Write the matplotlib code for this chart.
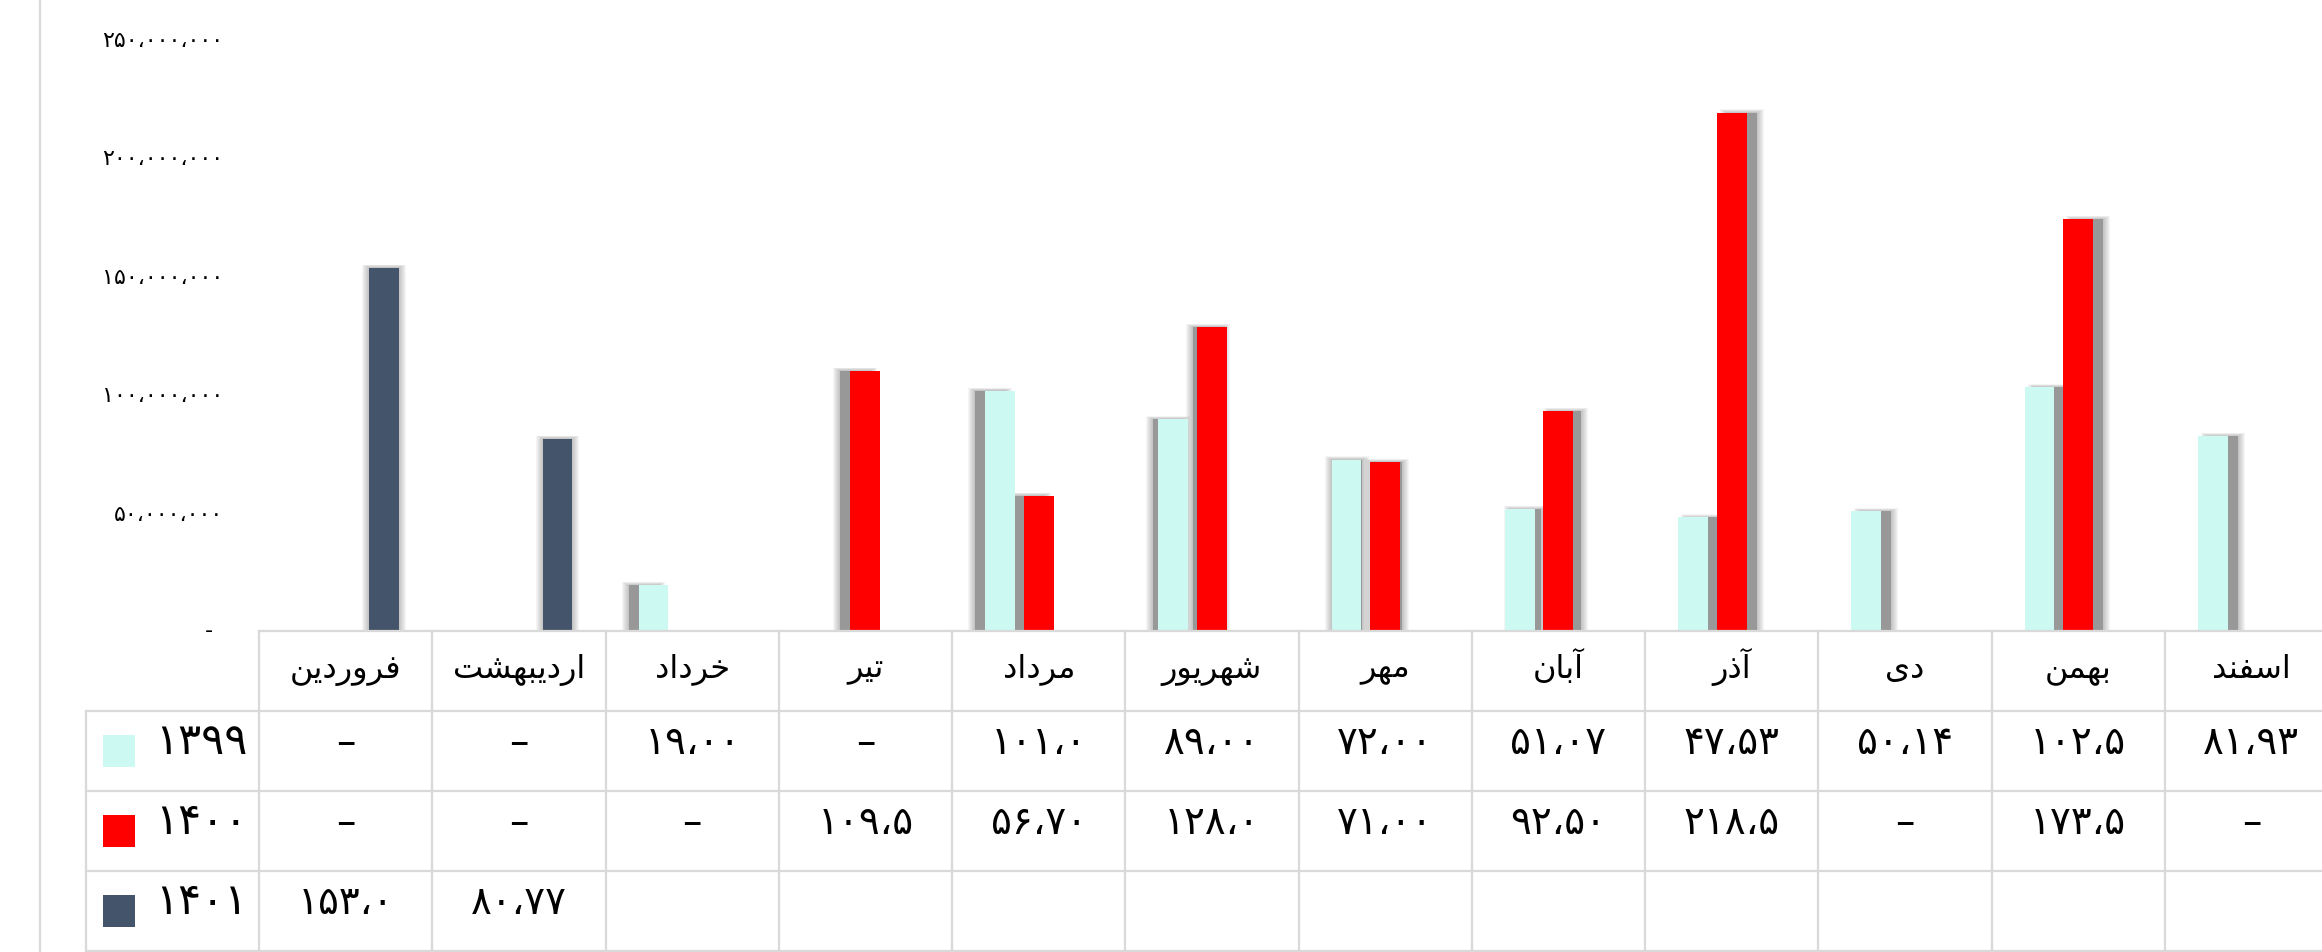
import matplotlib
matplotlib.use('Agg')
import matplotlib.pyplot as plt
import matplotlib.transforms as mtransforms
from matplotlib.lines import Line2D
import numpy as np

plt.rcParams['font.family'] = ['DejaVu Sans']

# months (Persian), values in millions
months = ['فروردین', 'اردیبهشت', 'خرداد', 'تیر', 'مرداد', 'شهریور',
          'مهر', 'آبان', 'آذر', 'دی', 'بهمن', 'اسفند']
series_names = ['۱۳۹۹', '۱۴۰۰', '۱۴۰۱']
v1399 = [None, None, 19.00, None, 101.0, 89.00, 72.00, 51.07, 47.53, 50.14, 102.5, 81.93]
v1400 = [None, None, None, 109.5, 56.70, 128.0, 71.00, 92.50, 218.5, None, 173.5, None]
v1401 = [153.0, 80.77]
colors = ['#CCF9F2', '#FF0000', '#44546A']
yticks = [0, 50, 100, 150, 200, 250]

# ---- tiny arabic shaper (matplotlib has no RTL / joining support)
FORMS = {
    'آ': ('\uFE81', '\uFE82'),
    'ا': ('\uFE8D', '\uFE8E'),
    'ب': ('\uFE8F', '\uFE90', '\uFE91', '\uFE92'),
    'ت': ('\uFE95', '\uFE96', '\uFE97', '\uFE98'),
    'خ': ('\uFEA5', '\uFEA6', '\uFEA7', '\uFEA8'),
    'د': ('\uFEA9', '\uFEAA'),
    'ذ': ('\uFEAB', '\uFEAC'),
    'ر': ('\uFEAD', '\uFEAE'),
    'س': ('\uFEB1', '\uFEB2', '\uFEB3', '\uFEB4'),
    'ش': ('\uFEB5', '\uFEB6', '\uFEB7', '\uFEB8'),
    'ف': ('\uFED1', '\uFED2', '\uFED3', '\uFED4'),
    'م': ('\uFEE1', '\uFEE2', '\uFEE3', '\uFEE4'),
    'ن': ('\uFEE5', '\uFEE6', '\uFEE7', '\uFEE8'),
    'ه': ('\uFEE9', '\uFEEA', '\uFEEB', '\uFEEC'),
    'و': ('\uFEED', '\uFEEE'),
    'ی': ('\uFEEF', '\uFEF0', '\uFEF3', '\uFEF4'),
}

def shape(word):
    out = []
    for i, ch in enumerate(word):
        f = FORMS[ch]
        pj = i > 0 and len(FORMS[word[i - 1]]) == 4
        nj = i < len(word) - 1 and len(f) == 4
        if pj and nj:
            out.append(f[3])
        elif pj:
            out.append(f[1])
        elif nj:
            out.append(f[2])
        else:
            out.append(f[0])
    return ''.join(reversed(out))

FA = str.maketrans('0123456789,.', '۰۱۲۳۴۵۶۷۸۹،،')

def fa_cell(v):
    nd = len(str(int(v)))
    return ('{:.%df}' % max(4 - nd, 1)).format(v).translate(FA)

def fa_tick(v):
    if v == 0:
        return '-'
    return '{:,}'.format(int(v * 1e6)).translate(FA)

W, H = 2322, 953
fig = plt.figure(figsize=(W / 100, H / 100), dpi=100)

# left border line of chart area
fig.add_artist(Line2D([40 / W, 40 / W], [0, 1], color='#D9D9D9', lw=1.6))

x0, x1 = 259, 2338
ax = fig.add_axes([x0 / W, (H - 631) / H, (x1 - x0) / W, 592 / H])
ax.set_xlim(-0.5, 11.5)
ax.set_ylim(0, 250)
for s in ax.spines.values():
    s.set_visible(False)
ax.set_xticks([])
ax.set_yticks(yticks)
ax.set_yticklabels([fa_tick(t) for t in yticks], fontsize=16)
ax.tick_params(axis='y', length=0, pad=26)
zl = ax.get_yticklabels()[0]
zl.set_transform(zl.get_transform() + mtransforms.ScaledTranslation(-0.10, 0.02, fig.dpi_scale_trans))

bw = 0.173
offs = [-0.223, 0.0, 0.223]
pxx = 12 / (x1 - x0)   # x units per pixel
pxy = 250 / 592
center_px = 1320

all_series = [v1399, v1400, v1401]
for k, vals in enumerate(all_series):
    for i, v in enumerate(vals):
        if v is None:
            continue
        xc = i + offs[k]
        xpix = x0 + (xc + 0.5) * (x1 - x0) / 12
        if k < 2:
            dx = np.clip((xpix - center_px) / 30.0, -10, 10)
            ax.bar(xc + dx * pxx, v, width=bw, color='#8c8c8c', alpha=0.55,
                   linewidth=0, zorder=1)
        else:
            dx = 0
        # soft blur around the shadow
        for j in range(1, 8):
            ax.bar(xc + dx * pxx, v + j * 0.45 * pxy, width=bw + 2 * j * 1.0 * pxx,
                   color='#4a4a4a', alpha=0.05, linewidth=0, zorder=1)
        ax.bar(xc, v, width=bw, color=colors[k], linewidth=0, zorder=3)

# ---- data table
tx = fig.add_axes([86 / W, 1 / H, (x1 - 86) / W, 320 / H])
tx.set_xlim(-1.5, 11.5)
tx.set_ylim(4, 0)
tx.axis('off')
gc = '#D9D9D9'
glw = 1.6
tx.plot([-0.5, 11.5], [0, 0], color=gc, lw=glw, clip_on=False)
for r in range(1, 5):
    tx.plot([-1.5, 11.5], [r, r], color=gc, lw=glw, clip_on=False)
tx.plot([-1.5, -1.5], [1, 4], color=gc, lw=glw, clip_on=False)
for c in range(13):
    tx.plot([c - 0.5, c - 0.5], [0, 4], color=gc, lw=glw, clip_on=False)

for i, m in enumerate(months):
    tx.text(i, 0.57, shape(m), ha='center', va='baseline', fontsize=23)

for k, vals in enumerate(all_series):
    yb = k + 1 + 0.53
    tx.plot([-1.307], [k + 1.5], marker='s', markersize=23.5, color=colors[k],
            markeredgewidth=0)
    tx.text(-0.565, yb, series_names[k], ha='right', va='baseline', fontsize=31)
    for i in range(12):
        if i < len(vals):
            s = '–' if vals[i] is None else fa_cell(vals[i])
            tx.text(i, yb, s, ha='center', va='baseline', fontsize=28)

fig.savefig('out.png', dpi=100)
